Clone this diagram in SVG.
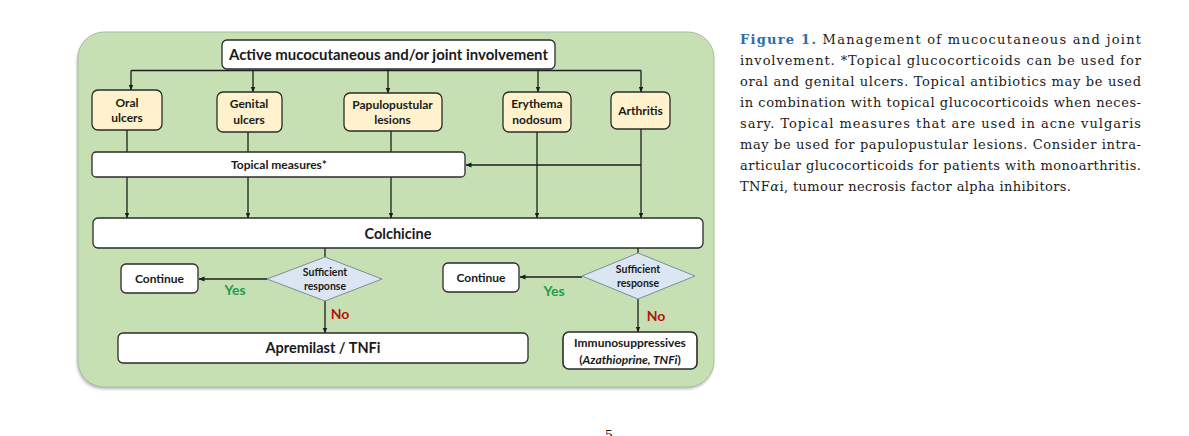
<svg xmlns="http://www.w3.org/2000/svg" width="1189" height="436" viewBox="0 0 1189 436">
<style>
.node{fill:#fff2cc;stroke:#2b2b2b;stroke-width:1.3}
.wbox{fill:#ffffff;stroke:#2b2b2b;stroke-width:1.3}
.dia{fill:#dce6f2;stroke:#7f8c99;stroke-width:1}
.t{font-family:Lato,"Liberation Sans",sans-serif;font-weight:bold;fill:#1a1a1a;text-anchor:middle}
.s11{font-size:12px}
.s14{font-size:14.5px}
.s9{font-size:10.5px}
.yes{font-family:Lato,"Liberation Sans",sans-serif;font-weight:bold;font-size:14px;fill:#1e9e4a;text-anchor:middle}
.no{font-family:Lato,"Liberation Sans",sans-serif;font-weight:bold;font-size:14px;fill:#b8120e;text-anchor:middle}
.ln{stroke:#1e1e1e;stroke-width:1.3;fill:none}
.arr{marker-end:url(#ah)}
.cap{font-family:"DejaVu Serif","Liberation Serif",serif;font-size:13px;fill:#1a1a1a}
.fig{fill:#2b6cb0;font-weight:bold}
</style>
<defs>
<marker id="ah" markerUnits="userSpaceOnUse" markerWidth="6" markerHeight="6" viewBox="0 0 6 6" refX="5.5" refY="3" orient="auto">
<path d="M0,0.6 L6,3 L0,5.4 Z" fill="#1e1e1e"/>
</marker>
<filter id="sh" x="-5%" y="-5%" width="110%" height="115%">
<feGaussianBlur stdDeviation="1.5"/>
</filter>
</defs>
<rect width="1189" height="436" fill="#ffffff"/>

<g id="panel">
<rect x="77" y="35" width="636" height="354" rx="26" fill="#9a9a9a" filter="url(#sh)" opacity="0.7"/>
<rect x="78" y="32" width="636" height="355" rx="26" fill="#c6e0b4" stroke="#a9bca0" stroke-width="1"/>
</g>

<g id="connectors">
<path class="ln" d="M131,70.5 H641"/>
<path class="ln arr" d="M131,70.5 V90"/>
<path class="ln arr" d="M253,70.5 V92"/>
<path class="ln arr" d="M388,69 V93"/>
<path class="ln arr" d="M538,70.5 V92"/>
<path class="ln arr" d="M641,70.5 V92"/>
<path class="ln" d="M127,130 V152"/>
<path class="ln" d="M248,132 V152"/>
<path class="ln" d="M391,131 V152"/>
<path class="ln arr" d="M127,177 V218"/>
<path class="ln arr" d="M248,177 V218"/>
<path class="ln arr" d="M391,177 V218"/>
<path class="ln arr" d="M537,132 V218"/>
<path class="ln arr" d="M641,129 V218"/>
<path class="ln arr" d="M641,165 H466"/>
<path class="ln" d="M325,248 V257"/>
<path class="ln" d="M638,248 V253"/>
<path class="ln arr" d="M267,279 H199"/>
<path class="ln arr" d="M325,301 V333"/>
<path class="ln arr" d="M582,277 H520"/>
<path class="ln arr" d="M638,299 V332"/>
</g>

<g id="top">
<rect class="wbox" x="222" y="40" width="333" height="29" rx="5"/>
<text class="t s14" x="388.5" y="60" textLength="319" lengthAdjust="spacingAndGlyphs">Active mucocutaneous and/or joint involvement</text>
</g>
<g id="oral">
<rect class="node" x="92" y="90" width="70" height="40" rx="6"/>
<text class="t s11" x="127" y="107">Oral</text>
<text class="t s11" x="127" y="122">ulcers</text>
</g>
<g id="genital">
<rect class="node" x="217" y="92" width="65" height="40" rx="6"/>
<text class="t s11" x="249" y="108">Genital</text>
<text class="t s11" x="249" y="124">ulcers</text>
</g>
<g id="papulo">
<rect class="node" x="344" y="93" width="98" height="38" rx="6"/>
<text class="t s11" x="392.5" y="109">Papulopustular</text>
<text class="t s11" x="392.5" y="124">lesions</text>
</g>
<g id="erythema">
<rect class="node" x="503" y="92" width="68" height="40" rx="6"/>
<text class="t s11" x="537" y="108">Erythema</text>
<text class="t s11" x="537" y="124">nodosum</text>
</g>
<g id="arthritis">
<rect class="node" x="611" y="92" width="59" height="37" rx="6"/>
<text class="t s11" x="640.5" y="115">Arthritis</text>
</g>
<g id="topical">
<rect class="wbox" x="92" y="152" width="373" height="25" rx="4"/>
<text class="t s11" x="279" y="169">Topical measures*</text>
</g>
<g id="colchicine">
<rect class="wbox" x="93" y="218" width="610" height="30" rx="5"/>
<text class="t s14" x="398" y="239">Colchicine</text>
</g>
<g id="decision1">
<polygon class="dia" points="325,257 382,279 325,301 267,279"/>
<text class="t s9" x="325" y="275.5">Sufficient</text>
<text class="t s9" x="325" y="290">response</text>
</g>
<g id="continue1">
<rect class="wbox" x="121" y="264" width="77" height="29" rx="5"/>
<text class="t s11" x="159.5" y="283">Continue</text>
</g>
<text class="yes" x="235" y="295">Yes</text>
<text class="no" x="340" y="319">No</text>
<g id="apremilast">
<rect class="wbox" x="118" y="333" width="410" height="30" rx="5"/>
<text class="t s14" x="323" y="353">Apremilast / TNFi</text>
</g>
<g id="decision2">
<polygon class="dia" points="638,253 695,276 638,299 582,276"/>
<text class="t s9" x="638" y="272.5">Sufficient</text>
<text class="t s9" x="638" y="286.5">response</text>
</g>
<g id="continue2">
<rect class="wbox" x="443" y="263" width="76" height="29" rx="5"/>
<text class="t s11" x="481" y="282">Continue</text>
</g>
<text class="yes" x="554" y="296">Yes</text>
<text class="no" x="656" y="321">No</text>
<g id="immuno">
<rect class="wbox" x="563" y="332" width="134" height="37" rx="6" style="stroke-width:1.6"/>
<text class="t s11" x="630" y="347">Immunosuppressives</text>
<text class="t s11" x="630" y="364">(<tspan font-style="italic">Azathioprine, TNFi</tspan>)</text>
</g>

<g id="caption">
<text class="cap" x="740" y="44" textLength="401" lengthAdjust="spacing"><tspan class="fig">Figure 1.</tspan> Management of mucocutaneous and joint</text>
<text class="cap" x="740" y="65" textLength="401" lengthAdjust="spacing">involvement. *Topical glucocorticoids can be used for</text>
<text class="cap" x="740" y="86" textLength="401" lengthAdjust="spacing">oral and genital ulcers. Topical antibiotics may be used</text>
<text class="cap" x="740" y="107" textLength="401" lengthAdjust="spacing">in combination with topical glucocorticoids when neces-</text>
<text class="cap" x="740" y="128" textLength="401" lengthAdjust="spacing">sary. Topical measures that are used in acne vulgaris</text>
<text class="cap" x="740" y="149" textLength="401" lengthAdjust="spacing">may be used for papulopustular lesions. Consider intra-</text>
<text class="cap" x="740" y="170" textLength="401" lengthAdjust="spacing">articular glucocorticoids for patients with monoarthritis.</text>
<text class="cap" x="740" y="191" textLength="331" lengthAdjust="spacing">TNF<tspan font-style="italic">α</tspan>i, tumour necrosis factor alpha inhibitors.</text>
</g>
<text class="cap" x="609" y="440" text-anchor="middle" style="font-size:13px">5</text>
</svg>
